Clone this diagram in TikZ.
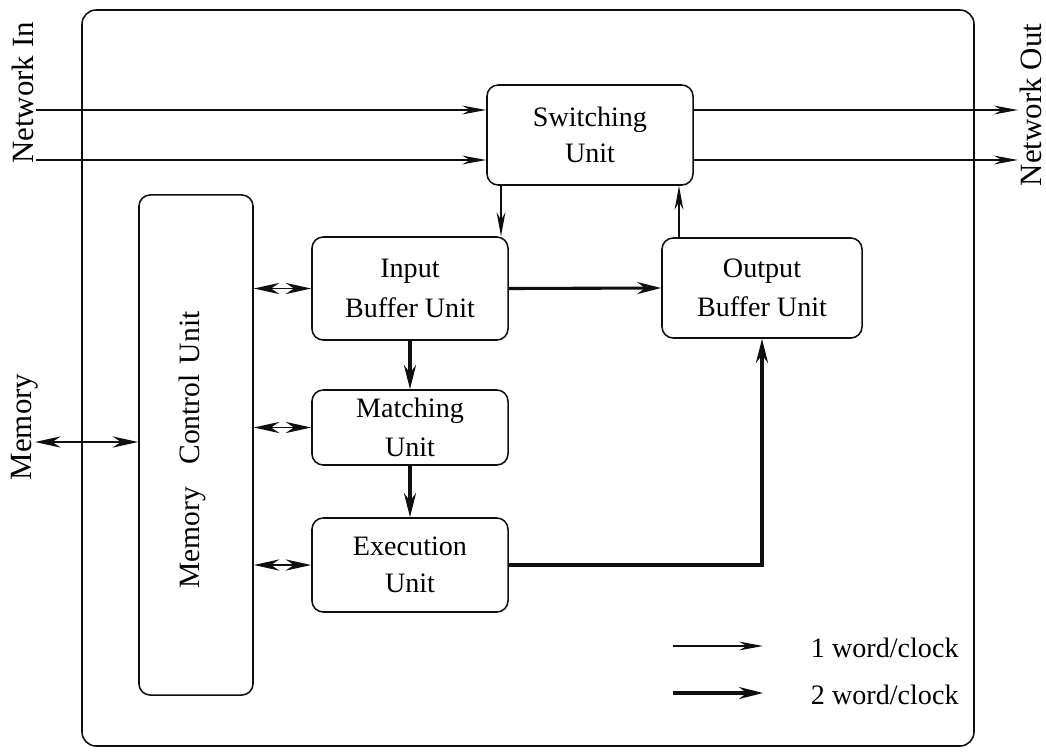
\documentclass[tikz,border=0pt]{standalone}
\usepackage{fontspec}
\setmainfont{Liberation Serif}
\usepackage{tikz}
\usetikzlibrary{
  arrows.meta,
  positioning
}
\definecolor{InkBlack}{RGB}{15, 15, 15}
\tikzset{
    unitbox/.style={draw=InkBlack, line width=1.1pt, rounded corners=8pt, align=center,
        font=\fontsize{20}{28}\selectfont, inner sep=0pt},
    onearrow/.style={draw=InkBlack, line width=0.9pt, -{Stealth[length=6mm, width=2.2mm]}},
    twoarrow/.style={draw=InkBlack, line width=2.2pt, -{Stealth[length=6mm, width=3mm]}},
    duplex/.style={draw=InkBlack, line width=1.4pt, {Stealth[length=6.4mm, width=2.8mm]}-{Stealth[length=6.4mm, width=2.8mm]}},
    sidelabel/.style={rotate=90, anchor=base, font=\fontsize{22}{26}\selectfont, inner sep=0pt}
}

\begin{document}
\begin{tikzpicture}[x=0.025cm, y=-0.025cm]
    \useasboundingbox (0,0) rectangle (1046,751);
    % processor frame
    \draw[InkBlack, line width=1.1pt, rounded corners=10pt] (82,10) rectangle (974,746);

    % units
    \node[unitbox, minimum width=5.15cm, minimum height=2.5cm, font=\fontsize{20}{26}\selectfont] (switching) at (590,135) {Switching\\Unit};
    \node[unitbox, minimum width=2.85cm, minimum height=12.5cm] (mcu) at (196,445) {};
    \node[rotate=90, inner sep=0pt, font=\fontsize{21}{24}\selectfont] (mculabel) at (192,450) {Memory\hspace{0.75em}Control\hspace{0.35em}Unit};
    \node[unitbox, minimum width=4.9cm, minimum height=2.575cm] (inbuf) at (410,288.5) {Input\\Buffer Unit};
    \node[unitbox, minimum width=5cm, minimum height=2.5cm] (outbuf) at (762,288) {Output\\Buffer Unit};
    \node[unitbox, minimum width=4.9cm, minimum height=1.875cm] (matching) at (410,427.5) {Matching\\Unit};
    \node[unitbox, minimum width=4.9cm, minimum height=2.35cm, font=\fontsize{20}{26}\selectfont] (execution) at (410,565) {Execution\\Unit};

    % outside labels
    \node[sidelabel] (netinlabel) at (33,93) {Network In};
    \node[sidelabel] (netoutlabel) at (1041,105) {Network Out};
    \node[sidelabel] (memlabel) at (31,427) {Memory};

    % free ends
    \coordinate (netin1) at (36,110);
    \coordinate (netin2) at (36,160);
    \coordinate (netout1) at (1018,110);
    \coordinate (netout2) at (1018,160);
    \coordinate (memport) at (35,442);
    \coordinate (downlane) at (501,0);
    \coordinate (uplane) at (679,0);

    % network
    \draw[onearrow] (netin1) -- (netin1 -| switching.west);
    \draw[onearrow] (netin2) -- (netin2 -| switching.west);
    \draw[onearrow] (switching.east |- netout1) -- (netout1);
    \draw[onearrow] (switching.east |- netout2) -- (netout2);
    \draw[onearrow] (switching.south -| downlane) -- (inbuf.north -| downlane);
    \draw[onearrow] (outbuf.north -| uplane) -- (switching.south -| uplane);

    % data path
    \draw[twoarrow] (inbuf.east) -- (outbuf.west);
    \draw[twoarrow] (inbuf.south) -- (matching.north);
    \draw[twoarrow] (matching.south) -- (execution.north);
    \draw[twoarrow] (execution.east) -| (outbuf.south);

    % memory side
    \draw[duplex] (memport) -- (mcu.west |- memport);
    \draw[duplex] (mcu.east |- inbuf.west) -- (inbuf.west);
    \draw[duplex] (mcu.east |- matching.west) -- (matching.west);
    \draw[duplex] (mcu.east |- execution.west) -- (execution.west);

    % legend
    \coordinate (leg1a) at (673,646);
    \coordinate (leg1b) at (763,646);
    \coordinate (leg2a) at (673,693);
    \coordinate (leg2b) at (763,693);
    \draw[onearrow] (leg1a) -- (leg1b);
    \draw[twoarrow] (leg2a) -- (leg2b);
    \node[anchor=west, font=\fontsize{20}{24}\selectfont] (leg1text) at (806,648) {1 word/clock};
    \node[anchor=west, font=\fontsize{20}{24}\selectfont] (leg2text) at (806,695) {2 word/clock};
\end{tikzpicture}
\end{document}
